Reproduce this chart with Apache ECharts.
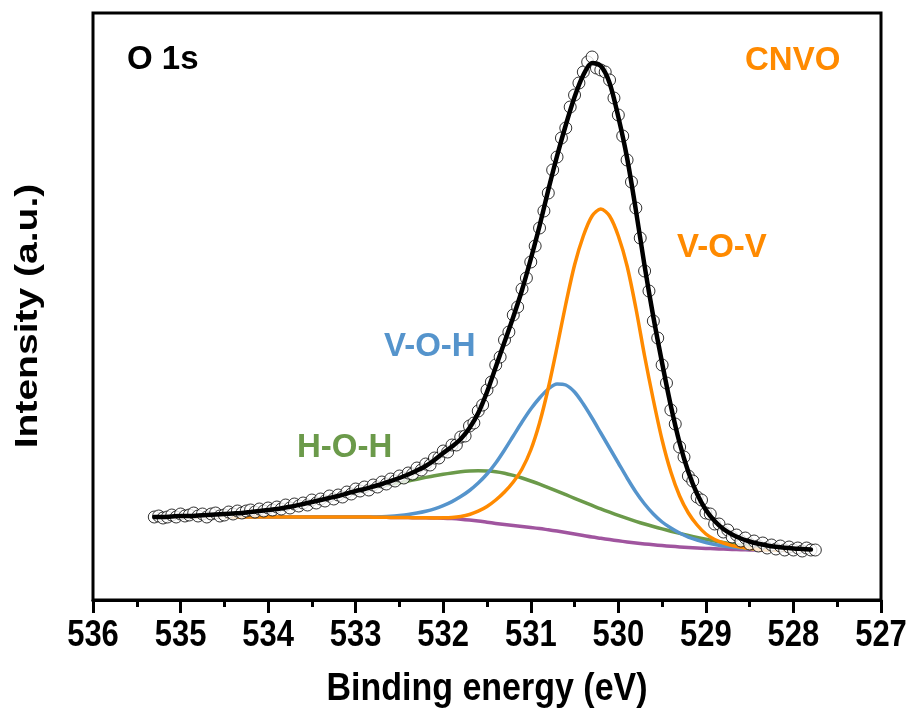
<!DOCTYPE html>
<html><head><meta charset="utf-8">
<script src="https://cdn.jsdelivr.net/npm/echarts@6/dist/echarts.min.js"></script>
<style>html,body{margin:0;padding:0;background:#fff}#c{width:914px;height:718px}</style>
</head><body><div id="c"></div>
<script>
// ---- tick labels ----
const xTicks = [536,535,534,533,532,531,530,529,528,527];

// ---- fitted-curve grid (binding energy, eV) ----
const compBE = [535.3,535.2,535.1,535.0,534.9,534.8,534.7,534.6,534.5,534.4,
534.3,534.2,534.1,534.0,533.9,533.8,533.7,533.6,533.5,533.4,
533.3,533.2,533.1,533.0,532.9,532.8,532.7,532.6,532.5,532.4,
532.3,532.2,532.1,532.0,531.9,531.8,531.7,531.6,531.5,531.4,
531.3,531.2,531.1,531.0,530.9,530.8,530.7,530.6,530.5,530.4,
530.3,530.2,530.1,530.0,529.9,529.8,529.7,529.6,529.5,529.4,
529.3,529.2,529.1,529.0,528.9,528.8,528.7,528.6,528.5,528.4,
528.3,528.2,528.1,528.0,527.9,527.8];

const background = [83,83,83,83,83,83,83,83,83,83,
83,83,83,83,83,83,83,83,83,83,
83,83,83,83,83,82.8,82.7,82.6,82.5,82.4,
82.3,82.2,82,81.8,81.4,80.8,80,79,77.8,76.6,
75.5,74.5,73.6,72.6,71.5,70.2,68.9,67.5,66,64.5,
63,61.7,60.4,59.2,58.1,57.1,56.1,55.2,54.4,53.7,
53.1,52.5,52,51.6,51.2,50.9,50.6,50.3,50.1,49.9,
49.8,49.7,49.6,49.5,49.3,49.2];

const vov = [83,83,83,83,83,83,83,83,83,83,
83,83,83,83,83,83,83,83,83,83,
83,83,83,83,83,82.8,82.7,82.6,82.5,82.4,
82.3,82.2,82.1,82.2,82.6,83.6,85.5,88.8,93.5,100,
108,118,131,150,177,212,253,296,335,364,
384,391,384,364,334,292,244,200,160,128,
104,87,75,66,60.5,57,54.5,52.8,51.5,50.6,
50.1,49.8,49.7,49.5,49.3,49.2];

const voh = [83,83,83,83,83,83,83,83,83,83,
83,83,83,83,83,83,83,83,83,83,
83,83,83,83,83,83,83.3,83.8,84.6,85.6,
87,88.8,91.2,94.4,98.4,103.4,109.5,117,126,137,
150,164,178,191,202,211,216,215,208,196,
182,167,152,137,122,108,96,86,78,72,
67,63,60,57.5,55.5,54,52.9,52,51.2,50.5,
50.1,49.8,49.7,49.5,49.3,49.2];

const hoh = [83,83,83.5,84,84,84.5,85,85.5,86,86.5,
87,88,89,90,91,92.5,94,96,98,100,
102,104,106,108,110,112,113.8,115.6,117.3,119,
120.8,122.6,124.3,125.8,127.1,128.2,128.9,129.2,129,128.3,
126.8,124.6,122,119,115.8,112.4,108.9,105.3,101.7,98.1,
94.6,91.1,87.8,84.6,81.6,78.7,76,73.5,71.1,68.8,
66.6,64.5,62.5,60.7,59,57.5,56.1,54.8,53.7,52.7,
51.8,51,50.4,50,49.7,49.5];

const envelope = [83,83,83.5,84,84,84.5,85,85.5,86,86.5,
87,88,89,90,91,92.5,94,96,98,100,
102,104,106.5,109,111,113.5,116,119,122,125.5,
129.5,134,140,147,153.5,161,172,187,208,233,
258,283,310,341,374,410,444,475,503,525,
537,534,517,483,442,390,334,283,237,194,
157,128,106,90,79,71,65.5,61.5,58.5,56.2,
54.5,53.2,52.2,51.5,51,50.5];

// ---- measured points [binding energy, intensity] ----
const measured = [
[535.30,83],[535.25,84],[535.20,82],[535.15,83],[535.10,85],[535.05,83],[535.00,86],[534.95,84],[534.90,85],[534.85,87],
[534.80,84],[534.75,86],[534.70,83],[534.65,86],[534.60,87],[534.55,84],[534.50,85],[534.45,88],[534.40,86],[534.35,89],
[534.30,87],[534.25,89],[534.20,90],[534.15,88],[534.10,91],[534.05,89],[534.00,92],[533.95,90],[533.90,93],[533.85,91],
[533.80,95],[533.75,92],[533.70,96],[533.65,94],[533.60,97],[533.55,95],[533.50,100],[533.45,97],[533.40,101],[533.35,99],
[533.30,104],[533.25,101],[533.20,105],[533.15,103],[533.10,108],[533.05,106],[533.00,111],[532.95,109],[532.90,113],[532.85,110],
[532.80,115],[532.75,113],[532.70,118],[532.65,116],[532.60,121],[532.55,119],[532.50,124],[532.45,122],[532.40,127],[532.35,126],
[532.30,132],[532.25,130],[532.20,136],[532.15,135],[532.10,142],[532.05,142],[532.00,149],[531.95,148],[531.90,155],[531.85,155],
[531.80,163],[531.75,164],[531.70,174],[531.65,177],[531.60,189],[531.55,195],[531.50,210],[531.45,218],[531.40,235],[531.35,243],
[531.30,260],[531.25,268],[531.20,285],[531.15,293],[531.10,311],[531.05,322],[531.00,338],[530.95,354],[530.90,372],[530.85,389],
[530.80,407],[530.75,430],[530.70,443],[530.65,462],[530.60,472],[530.55,493],[530.50,505],[530.45,517],[530.40,528],[530.35,538],
[530.30,543],[530.25,532],[530.20,530],[530.15,528],[530.10,520],[530.05,502],[530.00,485],[529.95,464],[529.90,440],[529.85,418],
[529.80,392],[529.75,362],[529.70,329],[529.65,309],[529.60,279],[529.55,262],[529.50,235],[529.45,217],[529.40,190],[529.35,176],
[529.30,153],[529.25,143],[529.20,124],[529.15,119],[529.10,103],[529.05,100],[529.00,87],[528.95,86],[528.90,76],[528.85,76],
[528.80,68],[528.75,70],[528.70,63],[528.65,65],[528.60,59],[528.55,62],[528.50,56],[528.45,59],[528.40,54],[528.35,57],
[528.30,52],[528.25,55],[528.20,51],[528.15,54],[528.10,50],[528.05,53],[528.00,50],[527.95,52],[527.90,49],[527.85,52],
[527.80,50],[527.75,50]
];

const C_ORANGE = '#FF8A00', C_BLUE = '#5594CC', C_GREEN = '#6B9A4A', C_PURPLE = '#A0559F';
const FONT = '"Liberation Sans", Arial, sans-serif';

function zip(xs, ys){ return xs.map((x,i)=>[x, ys[i]]); }

const chart = echarts.init(document.getElementById('c'), null, {renderer:'canvas'});
const lineSeries = (name, ys, color, width, z) => ({
  name, type:'line', data: zip(compBE, ys), symbol:'none', smooth:0.3, z,
  lineStyle:{color, width, cap:'round', join:'round'}, silent:true
});

chart.setOption({
  animation:false,
  backgroundColor:'#fff',
  grid:{left:93, top:13, width:788, height:587, show:true, borderColor:'#000', borderWidth:3},
  xAxis:{type:'value', min:527, max:536, interval:1, inverse:true,
    axisLine:{show:true, onZero:false, lineStyle:{color:'#000', width:3}},
    axisTick:{show:true, inside:false, length:13, lineStyle:{color:'#000', width:3}},
    minorTick:{show:true, splitNumber:2, length:7, lineStyle:{color:'#000', width:3}},
    axisLabel:{show:false}, splitLine:{show:false}},
  yAxis:{type:'value', min:0, max:587,
    axisLine:{show:false}, axisTick:{show:false}, axisLabel:{show:false}, splitLine:{show:false}},
  series:[
    lineSeries('Background', background, C_PURPLE, 3.5, 2),
    lineSeries('H-O-H', hoh, C_GREEN, 3.5, 3),
    lineSeries('V-O-H', voh, C_BLUE, 3.5, 4),
    lineSeries('V-O-V', vov, C_ORANGE, 3.5, 5),
    {name:'Measured', type:'scatter', data:measured, symbol:'circle', symbolSize:12, z:6,
      itemStyle:{color:'#fff', borderColor:'#000', borderWidth:1}, silent:true},
    lineSeries('Fit', envelope, '#000', 4.5, 7)
  ]
});

// text elements
const g = [];
xTicks.forEach(t => {
  const px = chart.convertToPixel({xAxisIndex:0}, t);
  g.push({type:'text', x:px, y:636, scaleY:1.2, silent:true,
    style:{text:String(t), font:'bold 31px '+FONT, fill:'#000', align:'center', verticalAlign:'middle'}});
});
const cx = (chart.convertToPixel({xAxisIndex:0}, 536) + chart.convertToPixel({xAxisIndex:0}, 527))/2;
g.push({type:'text', x:cx, y:689, scaleY:1.15, silent:true,
  style:{text:'Binding energy (eV)', font:'bold 34px '+FONT, fill:'#000', align:'center', verticalAlign:'middle'}});
g.push({type:'text', x:28, y:316, rotation:Math.PI/2, scaleX:1.22, silent:true,
  style:{text:'Intensity (a.u.)', font:'bold 32px '+FONT, fill:'#000', align:'center', verticalAlign:'middle'}});
g.push({type:'text', x:127, y:60, silent:true,
  style:{text:'O 1s', font:'bold 33px '+FONT, fill:'#000', align:'left', verticalAlign:'middle'}});
g.push({type:'text', x:745, y:61, silent:true,
  style:{text:'CNVO', font:'bold 33px '+FONT, fill:C_ORANGE, align:'left', verticalAlign:'middle'}});
g.push({type:'text', x:677, y:248, silent:true,
  style:{text:'V-O-V', font:'bold 33px '+FONT, fill:C_ORANGE, align:'left', verticalAlign:'middle'}});
g.push({type:'text', x:384, y:347, silent:true,
  style:{text:'V-O-H', font:'bold 33px '+FONT, fill:C_BLUE, align:'left', verticalAlign:'middle'}});
g.push({type:'text', x:297, y:448, silent:true,
  style:{text:'H-O-H', font:'bold 33px '+FONT, fill:C_GREEN, align:'left', verticalAlign:'middle'}});
chart.setOption({graphic: g});
</script>
</body></html>
